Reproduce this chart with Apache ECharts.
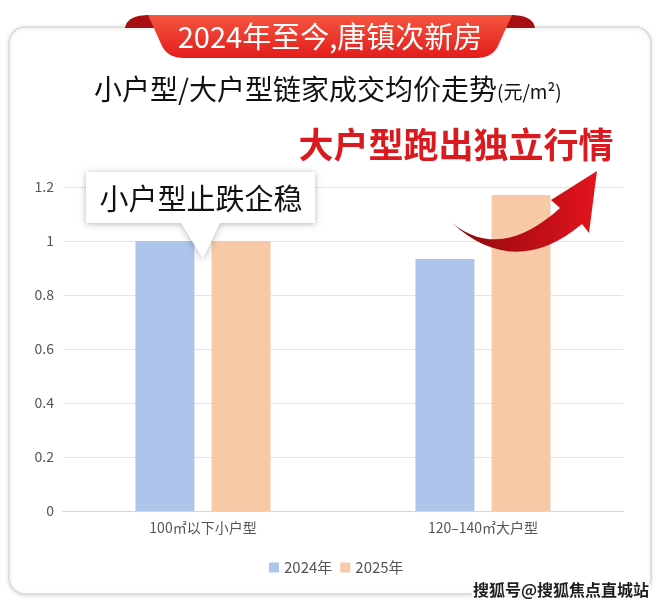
<!DOCTYPE html>
<html>
<head>
<meta charset="utf-8">
<script src="https://cdn.jsdelivr.net/npm/echarts@6/dist/echarts.min.js"></script>
<style>
html,body{margin:0;padding:0;background:#fff;}
#chart{width:660px;height:610px;}
</style>
</head>
<body>
<div id="chart"></div>
<script>
const categories = ['100㎡以下小户型', '120–140㎡大户型'];
const seriesNames = ['2024年', '2025年'];
const values2024 = [1.0, 0.933];
const values2025 = [1.0, 1.17];
const yMin = 0, yMax = 1.2, yInterval = 0.2;
const bannerText = '2024年至今,唐镇次新房';
const titleMain = '小户型/大户型链家成交均价走势';
const titleUnit = '(元/m²)';
const bigNote = '大户型跑出独立行情';
const calloutText = '小户型止跌企稳';
const watermark = '搜狐号@搜狐焦点直城站';

const FONT = '"Noto Sans CJK SC", "Noto Sans", sans-serif';
const chart = echarts.init(document.getElementById('chart'), null, {renderer: 'canvas'});

function lin(x, y, x2, y2, stops) {
  return {type: 'linear', x: x, y: y, x2: x2, y2: y2, colorStops: stops, global: false};
}
// sample a quadratic curve (decoration outline helper)
function quad(p0, c, p1, n) {
  const pts = [];
  for (let i = 1; i <= n; i++) {
    const t = i / n, u = 1 - t;
    pts.push([u*u*p0[0] + 2*u*t*c[0] + t*t*p1[0], u*u*p0[1] + 2*u*t*c[1] + t*t*p1[1]]);
  }
  return pts;
}
function shape(start, segs) {
  let pts = [start];
  let cur = start;
  segs.forEach(s => {
    if (s.length === 2 && typeof s[0] === 'number') { pts.push(s); cur = s; }
    else { pts = pts.concat(quad(cur, s[0], s[1], 16)); cur = s[1]; }
  });
  return pts;
}

const leftEar = shape([125, 28], [[[127, 15], [150, 15]], [162, 28]]);
const rightEar = shape([535, 28], [[[533, 15], [510, 15]], [498, 28]]);
const ribbon = shape([148, 15], [[512, 15], [498, 46], [[492, 58], [476, 58]], [184, 58], [[168, 58], [162, 46]]]);
const callout = [[86, 172], [315, 172], [315, 223], [220, 223], [203, 259], [181, 223], [86, 223]];
const arrow = shape([452, 223], [[[500, 262], [560, 208]], [551, 200], [597, 171], [589, 233], [582, 224], [[515, 280], [452, 223]]]);

const option = {
  backgroundColor: '#ffffff',
  textStyle: {fontFamily: FONT},
  animation: false,
  title: {
    text: '{a|' + titleMain + '}{b|' + titleUnit + '}',
    left: 89, top: 70,
    textStyle: {
      rich: {
        a: {fontFamily: FONT, fontSize: 28, color: '#111111', fontWeight: 'normal'},
        b: {fontFamily: FONT, fontSize: 19, color: '#111111', fontWeight: 'normal', padding: [6, 0, 0, 0]}
      }
    }
  },
  legend: {
    data: seriesNames,
    left: 264, top: 555,
    itemWidth: 10, itemHeight: 10, itemGap: 8,
    icon: 'rect',
    textStyle: {fontFamily: FONT, fontSize: 15, color: '#555555'}
  },
  grid: {left: 63, right: 37, top: 187, bottom: 99, containLabel: false},
  xAxis: {
    type: 'category',
    data: categories,
    axisTick: {show: false},
    axisLine: {lineStyle: {color: '#d6d6d6', width: 1}},
    axisLabel: {fontFamily: FONT, fontSize: 14, color: '#555555', margin: 10}
  },
  yAxis: {
    type: 'value',
    min: yMin, max: yMax, interval: yInterval,
    axisLine: {show: false},
    axisTick: {show: false},
    splitLine: {lineStyle: {color: '#e4e4e4', width: 1}},
    axisLabel: {fontFamily: FONT, fontSize: 14, color: '#555555', margin: 9,
      formatter: v => String(+v.toFixed(1))}
  },
  series: [
    {name: seriesNames[0], type: 'bar', data: values2024, barWidth: 59, barGap: '29%',
      itemStyle: {color: '#adc5ea'}},
    {name: seriesNames[1], type: 'bar', data: values2025, barWidth: 59, barGap: '29%',
      itemStyle: {color: '#f8c9a6'}}
  ],
  graphic: {
    elements: [
      {type: 'rect', z: -10, shape: {x: 9, y: 27, width: 642, height: 567, r: 16},
        style: {fill: '#ffffff', stroke: '#d9d9d9', lineWidth: 1.5,
          shadowBlur: 4, shadowColor: 'rgba(0,0,0,0.12)', shadowOffsetY: 1}},
      {type: 'polygon', z: 10, shape: {points: leftEar}, style: {fill: '#a80f12'}},
      {type: 'polygon', z: 10, shape: {points: rightEar}, style: {fill: '#a80f12'}},
      {type: 'polygon', z: 11, shape: {points: ribbon},
        style: {fill: lin(0, 0, 0, 1, [{offset: 0, color: '#f5553f'}, {offset: 1, color: '#e21d1d'}])}},
      {type: 'text', z: 12, x: 330, y: 37,
        style: {text: bannerText, fill: '#ffffff', font: 'normal 29px ' + FONT,
          align: 'center', verticalAlign: 'middle'}},
      {type: 'text', z: 12, x: 456, y: 145,
        style: {text: bigNote, fill: '#db1a1f', font: 'bold 35px ' + FONT,
          align: 'center', verticalAlign: 'middle'}},
      {type: 'polygon', z: 20, shape: {points: callout},
        style: {fill: '#ffffff', shadowBlur: 6, shadowColor: 'rgba(0,0,0,0.28)', shadowOffsetY: 1}},
      {type: 'text', z: 21, x: 201, y: 199,
        style: {text: calloutText, fill: '#111111', font: 'normal 29px ' + FONT,
          align: 'center', verticalAlign: 'middle'}},
      {type: 'polygon', z: 20, shape: {points: arrow},
        style: {fill: lin(0, 0, 1, 0, [{offset: 0, color: '#8e0a10'}, {offset: 0.5, color: '#b70d16'}, {offset: 1, color: '#e3141c'}])}},
      {type: 'text', z: 30, x: 649, y: 590,
        style: {text: watermark, fill: '#1e1e1e', font: 'bold 16px ' + FONT,
          align: 'right', verticalAlign: 'middle', stroke: '#ffffff', lineWidth: 3}}
    ]
  }
};
chart.setOption(option);
</script>
</body>
</html>
